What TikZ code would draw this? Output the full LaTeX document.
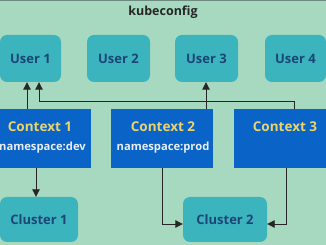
\documentclass[tikz,border=0pt]{standalone}
\usepackage{fontspec}
\setmainfont{Open Sans}
\usetikzlibrary{arrows.meta}
\definecolor{bg}{HTML}{A6D9BF}
\definecolor{topline}{HTML}{6E8A80}
\definecolor{teal}{HTML}{3BB4BE}
\definecolor{usertext}{HTML}{1B4677}
\definecolor{ctxblue}{HTML}{0A64C8}
\definecolor{ctxtext}{HTML}{E8D46E}
\definecolor{nstext}{HTML}{E8EEF5}
\tikzset{
  userbox/.style={fill=teal, rounded corners=7pt, inner sep=0pt, font=\bfseries\fontsize{13}{15}\selectfont, text=usertext},
  ctxbox/.style={fill=ctxblue, inner sep=0pt},
  ctxtitle/.style={font=\bfseries\fontsize{13.5}{15}\selectfont, text=ctxtext},
  nslabel/.style={font=\bfseries\fontsize{11.2}{13}\selectfont, text=nstext},
  conn/.style={draw=black!85, line width=0.9pt, -{Triangle[length=7.5pt,width=7.5pt]}},
}
\begin{document}
\begin{tikzpicture}[x=1pt,y=-1pt]
\useasboundingbox (0,0) rectangle (326,245);
\fill[bg] (0,0) rectangle (326,245);
\fill[topline] (0,0) rectangle (326,1.2);
\node[font=\bfseries\fontsize{12.5}{14}\selectfont, text=black!85] (title) at (163,12) {kubeconfig};
% users
\node[userbox, minimum width=61pt, minimum height=47pt] (u1) at (30.5,58.5) {User 1};
\node[userbox, minimum width=63pt, minimum height=47pt] (u2) at (118.5,58.5) {User 2};
\node[userbox, minimum width=63pt, minimum height=47pt] (u3) at (206.5,58.5) {User 3};
\node[userbox, minimum width=61pt, minimum height=47pt] (u4) at (295.5,58.5) {User 4};
% contexts
\node[ctxbox, minimum width=91pt, minimum height=59pt] (c1) at (45.5,138.5) {};
\node[ctxbox, minimum width=102pt, minimum height=59pt] (c2) at (162,138.5) {};
\node[ctxbox, minimum width=92pt, minimum height=59pt] (c3) at (280,138.5) {};
\node[ctxtitle] (c1t) at (40,126.5) {Context 1};
\node[nslabel] (c1n) at (42.5,148) {namespace:dev};
\node[ctxtitle] (c2t) at (163,126.5) {Context 2};
\node[nslabel] (c2n) at (163,148) {namespace:prod};
\node[ctxtitle] (c3t) at (285,126.5) {Context 3};
% clusters
\node[userbox, minimum width=78pt, minimum height=45pt] (k1) at (39,219.5) {Cluster 1};
\node[userbox, minimum width=84pt, minimum height=45pt] (k2) at (225,219.5) {Cluster 2};
% connectors
\draw[conn] (c1.north -| 27,0) -- (u1.south -| 27,0);
\draw[conn] (c3.north -| 294,0) -- (294,101) -- (39,101) -- (u1.south -| 39,0);
\draw[conn] (c2.north -| 206,0) -- (u3.south -| 206,0);
\draw[conn] (c1.south -| 36,0) -- (k1.north -| 36,0);
\draw[conn] (c2.south -| 162,0) -- (162,224) -- (k2.west |- 0,224);
\draw[conn] (c3.south -| 286,0) -- (286,224) -- (k2.east |- 0,224);
\end{tikzpicture}
\end{document}
